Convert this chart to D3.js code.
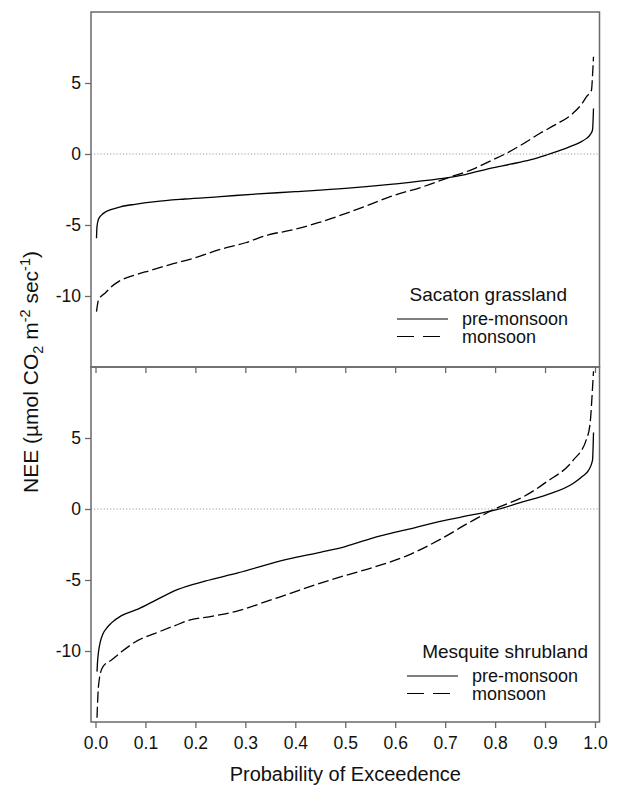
<!DOCTYPE html>
<html>
<head>
<meta charset="utf-8">
<script src="https://cdn.jsdelivr.net/npm/d3@7"></script>
<style>
  body { margin: 0; background: #fff; }
  svg text { font-family: "Liberation Sans", Arial, sans-serif; fill: #111; }
</style>
</head>
<body>
<svg width="620" height="787"></svg>
<script>
// probability of exceedence / NEE pairs
var sacatonPre = [[0.002,-5.94],[0.003,-5.1],[0.006,-4.6],[0.012,-4.3],[0.02,-4.08],[0.029,-3.94],
  [0.05,-3.72],[0.079,-3.54],[0.12,-3.35],[0.179,-3.17],[0.25,-3.0],[0.313,-2.84],[0.4,-2.65],
  [0.5,-2.42],[0.59,-2.14],[0.69,-1.74],[0.74,-1.45],[0.79,-1.01],[0.83,-0.72],[0.87,-0.42],
  [0.903,-0.07],[0.93,0.25],[0.95,0.52],[0.97,0.82],[0.983,1.1],[0.991,1.4],[0.995,1.69],[0.997,3.2]];
var sacatonMon = [[0.002,-11.1],[0.004,-10.6],[0.006,-10.28],[0.012,-10.0],[0.019,-9.81],[0.03,-9.4],
  [0.046,-8.99],[0.079,-8.52],[0.11,-8.2],[0.146,-7.82],[0.2,-7.3],[0.246,-6.76],[0.3,-6.25],
  [0.346,-5.7],[0.4,-5.3],[0.446,-4.84],[0.5,-4.2],[0.55,-3.55],[0.59,-3.0],[0.656,-2.3],
  [0.703,-1.71],[0.756,-1.06],[0.79,-0.5],[0.823,0.05],[0.86,0.8],[0.89,1.46],[0.92,2.05],
  [0.956,2.87],[0.975,3.6],[0.983,4.04],[0.993,4.5],[0.995,5.5],[0.997,6.85]];
var mesquitePre = [[0.003,-11.45],[0.004,-10.8],[0.006,-10.06],[0.01,-9.3],[0.015,-8.78],[0.022,-8.4],
  [0.032,-8.02],[0.052,-7.51],[0.085,-7.05],[0.118,-6.47],[0.165,-5.66],[0.219,-5.08],[0.285,-4.5],
  [0.385,-3.53],[0.45,-3.05],[0.5,-2.65],[0.556,-2.03],[0.623,-1.45],[0.69,-0.87],[0.756,-0.4],
  [0.803,-0.05],[0.857,0.52],[0.903,0.99],[0.956,1.79],[0.975,2.3],[0.987,2.72],[0.995,3.42],[0.997,5.38]];
var mesquiteMon = [[0.003,-14.7],[0.005,-13.0],[0.008,-11.9],[0.015,-11.1],[0.032,-10.64],[0.052,-10.06],
  [0.085,-9.25],[0.118,-8.78],[0.159,-8.21],[0.185,-7.86],[0.235,-7.55],[0.285,-7.17],[0.335,-6.6],
  [0.385,-6.0],[0.452,-5.2],[0.5,-4.68],[0.556,-4.11],[0.623,-3.3],[0.69,-2.14],[0.756,-0.8],
  [0.803,0.06],[0.857,0.87],[0.903,1.91],[0.956,3.42],[0.983,4.92],[0.99,5.96],[0.995,8.5],[0.997,9.7]];

var sites = ["Sacaton grassland", "Mesquite shrubland"];
var seasons = ["pre-monsoon", "monsoon"];
var yTicks = [-10, -5, 0, 5];
var xTicks = [0, 0.1, 0.2, 0.3, 0.4, 0.5, 0.6, 0.7, 0.8, 0.9, 1.0];

var svg = d3.select("svg");
var plotLeft = 91, plotRight = 599.5, plotTop = 12, panelH = 355;
var frameColor = "#6a6a6a";

var x = d3.scaleLinear().domain([-0.009, 1.009]).range([plotLeft, plotRight]);

var panels = [
  { site: sites[0], series: [sacatonPre, sacatonMon], y0: plotTop, legendX: 397, legendY: 301, titleEnd: 567 },
  { site: sites[1], series: [mesquitePre, mesquiteMon], y0: plotTop + panelH, legendX: 407, legendY: 658, titleEnd: 588 }
];

panels.forEach(function (p, i) {
  var y = d3.scaleLinear().domain([-15, 10]).range([p.y0 + panelH, p.y0]);
  var g = svg.append("g");

  // zero line
  g.append("line")
    .attr("x1", plotLeft).attr("x2", plotRight)
    .attr("y1", y(0)).attr("y2", y(0))
    .attr("stroke", "#888").attr("stroke-width", 1)
    .attr("stroke-dasharray", "1,2.2");

  var line = d3.line()
    .x(function (d) { return x(d[0]); })
    .y(function (d) { return y(d[1]); })
    .curve(d3.curveMonotoneX);

  p.series.forEach(function (s, k) {
    g.append("path")
      .datum(s)
      .attr("d", line)
      .attr("fill", "none")
      .attr("stroke", "#000")
      .attr("stroke-width", 1.3)
      .attr("stroke-dasharray", k === 1 ? "11,4" : null);
  });

  // y axis (plain hyphen minus like the original)
  var ya = g.append("g")
    .attr("transform", "translate(" + plotLeft + ",0)")
    .call(d3.axisLeft(y).tickValues(yTicks).tickSize(6).tickPadding(4)
      .tickFormat(function (d) { return String(d); }));
  ya.select(".domain").remove();
  ya.selectAll(".tick line").attr("stroke", frameColor).attr("stroke-width", 1.3);
  ya.selectAll(".tick text").attr("font-size", 17.5).attr("fill", "#111");

  // x ticks hanging below each panel
  var xa = g.append("g")
    .attr("transform", "translate(0," + (p.y0 + panelH) + ")")
    .call(d3.axisBottom(x).tickValues(xTicks).tickSize(6).tickPadding(9)
      .tickFormat(i === 1 ? d3.format(".1f") : ""));
  xa.select(".domain").remove();
  xa.selectAll(".tick line").attr("stroke", frameColor).attr("stroke-width", 1.3);
  xa.selectAll(".tick text").attr("font-size", 17.5).attr("fill", "#111");

  // frame
  g.append("rect")
    .attr("x", plotLeft).attr("y", p.y0)
    .attr("width", plotRight - plotLeft).attr("height", panelH)
    .attr("fill", "none").attr("stroke", frameColor).attr("stroke-width", 1.5);

  // legend
  var lg = g.append("g");
  lg.append("text")
    .attr("x", p.titleEnd).attr("y", p.legendY)
    .attr("text-anchor", "end").attr("font-size", 19)
    .text(p.site);
  seasons.forEach(function (s, k) {
    var ly = p.legendY + 18 + k * 17.5;
    lg.append("line")
      .attr("x1", p.legendX).attr("x2", p.legendX + (k === 1 ? 43 : 51))
      .attr("y1", ly).attr("y2", ly)
      .attr("stroke", "#000").attr("stroke-width", 1.2)
      .attr("stroke-dasharray", k === 1 ? "17,9" : null);
    lg.append("text")
      .attr("x", p.legendX + 65).attr("y", ly + 6)
      .attr("font-size", 18)
      .text(s);
  });
});

// axis titles
svg.append("text")
  .attr("x", (plotLeft + plotRight) / 2).attr("y", 781)
  .attr("text-anchor", "middle").attr("font-size", 20)
  .text("Probability of Exceedence");

var yl = svg.append("text")
  .attr("transform", "translate(38,372) rotate(-90)")
  .attr("text-anchor", "middle").attr("font-size", 21);
yl.append("tspan").text("NEE (\u00b5mol CO");
yl.append("tspan").attr("font-size", 14.5).attr("dy", 5).text("2");
yl.append("tspan").attr("dy", -5).text(" m");
yl.append("tspan").attr("font-size", 14.5).attr("dy", -8).text("-2");
yl.append("tspan").attr("dy", 8).text(" sec");
yl.append("tspan").attr("font-size", 14.5).attr("dy", -8).text("-1");
yl.append("tspan").attr("dy", 8).text(")");
</script>
</body>
</html>
